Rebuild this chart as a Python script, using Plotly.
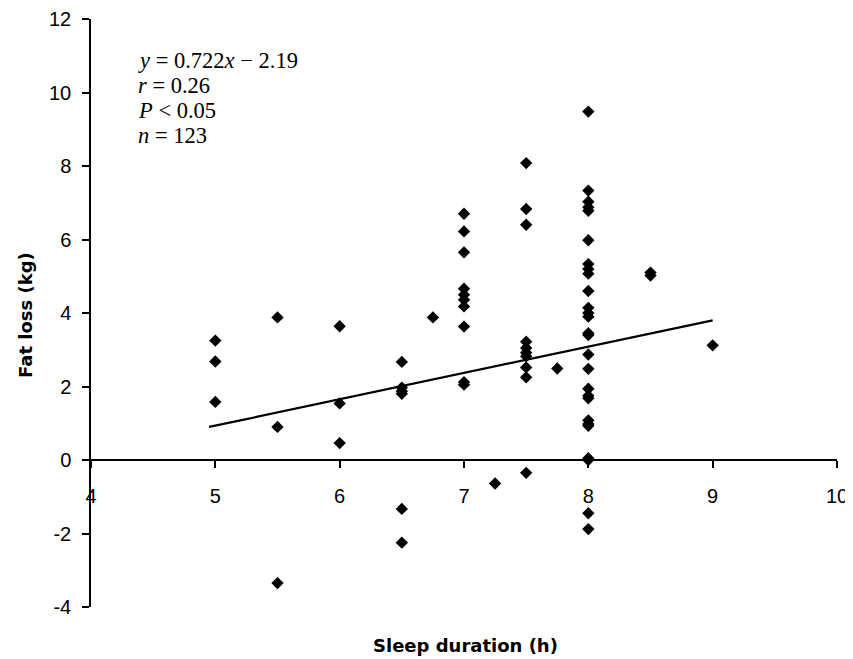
import plotly.graph_objects as go

# Data
sleep_h = (
    [5.0] * 3 + [5.5] * 3 + [6.0] * 3 + [6.5] * 6 + [6.75] + [7.0] * 10 + [7.25]
    + [7.5] * 10 + [7.75] + [8.0] * 27 + [8.5] * 2 + [9.0]
)
fat_loss = (
    [3.25, 2.68, 1.58]
    + [3.88, 0.9, -3.35]
    + [3.64, 1.54, 0.46]
    + [2.67, 1.97, 1.87, 1.8, -1.33, -2.25]
    + [3.88]
    + [6.7, 6.22, 5.65, 4.66, 4.5, 4.36, 4.18, 3.63, 2.12, 2.05]
    + [-0.64]
    + [8.08, 6.83, 6.4, 3.22, 3.05, 2.92, 2.82, 2.52, 2.25, -0.35]
    + [2.49]
    + [9.48, 7.33, 7.03, 6.88, 6.78, 5.98, 5.33, 5.2, 5.07, 4.6, 4.14, 4.0, 3.9,
       3.45, 3.4, 2.87, 2.48, 1.94, 1.75, 1.68, 1.08, 0.98, 0.93, 0.05, 0.0,
       -1.45, -1.88]
    + [5.1, 5.02]
    + [3.12]
)
line_x = [4.95, 9.0]
line_y = [0.9, 3.8]

x_ticks = [4, 5, 6, 7, 8, 9, 10]
y_ticks = [-4, -2, 0, 2, 4, 6, 8, 10, 12]

stats_lines = [
    "<i>y</i> = 0.722<i>x</i> \u2212 2.19",
    "<i>r</i> = 0.26",
    "<i>P</i> &lt; 0.05",
    "<i>n</i> = 123",
]

# page has an 8px body margin; size the figure to fit the 853x659 window
OFF = 8
W, H = 853 - OFF, 659 - OFF
ML, MT = 91 - OFF, 19 - OFF
PW, PH = 746, 588
MR = W - ML - PW
MB = H - MT - PH


def px_to_paper(px, py):
    return (px - OFF - ML) / PW, 1 - (py - OFF - MT) / PH


fig = go.Figure()
fig.add_trace(go.Scatter(
    x=line_x, y=line_y, mode="lines",
    line=dict(color="black", width=2.2), showlegend=False, hoverinfo="skip",
))
fig.add_trace(go.Scatter(
    x=sleep_h, y=fat_loss, mode="markers",
    marker=dict(symbol="diamond", size=9.5, color="black", line=dict(width=0)),
    showlegend=False,
))

serif = dict(family="Liberation Serif, Times New Roman, serif", size=22.5, color="black")
for i, txt in enumerate(stats_lines):
    ax, ay = px_to_paper(136, 60 + 25 * i)
    fig.add_annotation(
        x=ax, y=ay, xref="paper", yref="paper",
        xanchor="left", yanchor="middle", showarrow=False, align="left",
        text=txt, font=serif,
    )

tick_font = dict(family="Liberation Sans, Arial, sans-serif", size=20, color="black")
title_font = dict(family="DejaVu Sans, Arial, sans-serif", size=18, color="black")

tx, ty = px_to_paper(465, 645)
fig.add_annotation(
    x=tx, y=ty, xref="paper", yref="paper", showarrow=False,
    yanchor="middle", xanchor="center",
    text="<b>Sleep duration (h)</b>", font=title_font,
)
tx, ty = px_to_paper(25, 315)
fig.add_annotation(
    x=tx, y=ty, xref="paper", yref="paper", showarrow=False,
    yanchor="middle", xanchor="center",
    textangle=-90, text="<b>Fat loss (kg)</b>", font=title_font,
)

fig.update_layout(
    width=W, height=H,
    margin=dict(l=ML, r=MR, t=MT, b=MB),
    paper_bgcolor="white", plot_bgcolor="white",
    xaxis=dict(
        range=[4, 10], tickvals=x_ticks, ticktext=[str(v) for v in x_ticks],
        showgrid=False, zeroline=False, showline=True, linecolor="black", linewidth=1.5,
        ticks="outside", ticklen=7, tickwidth=1.5, tickcolor="black",
        anchor="free", position=0.25, tickfont=tick_font,
        ticklabelstandoff=11, automargin=False,
    ),
    yaxis=dict(
        range=[-4, 12], tickvals=y_ticks, ticktext=[str(v) for v in y_ticks],
        showgrid=False, zeroline=False, showline=True, linecolor="black", linewidth=1.5,
        ticks="outside", ticklen=7, tickwidth=1.5, tickcolor="black",
        tickfont=tick_font, ticklabelstandoff=7, automargin=False,
    ),
)

fig.write_html("out.html")
